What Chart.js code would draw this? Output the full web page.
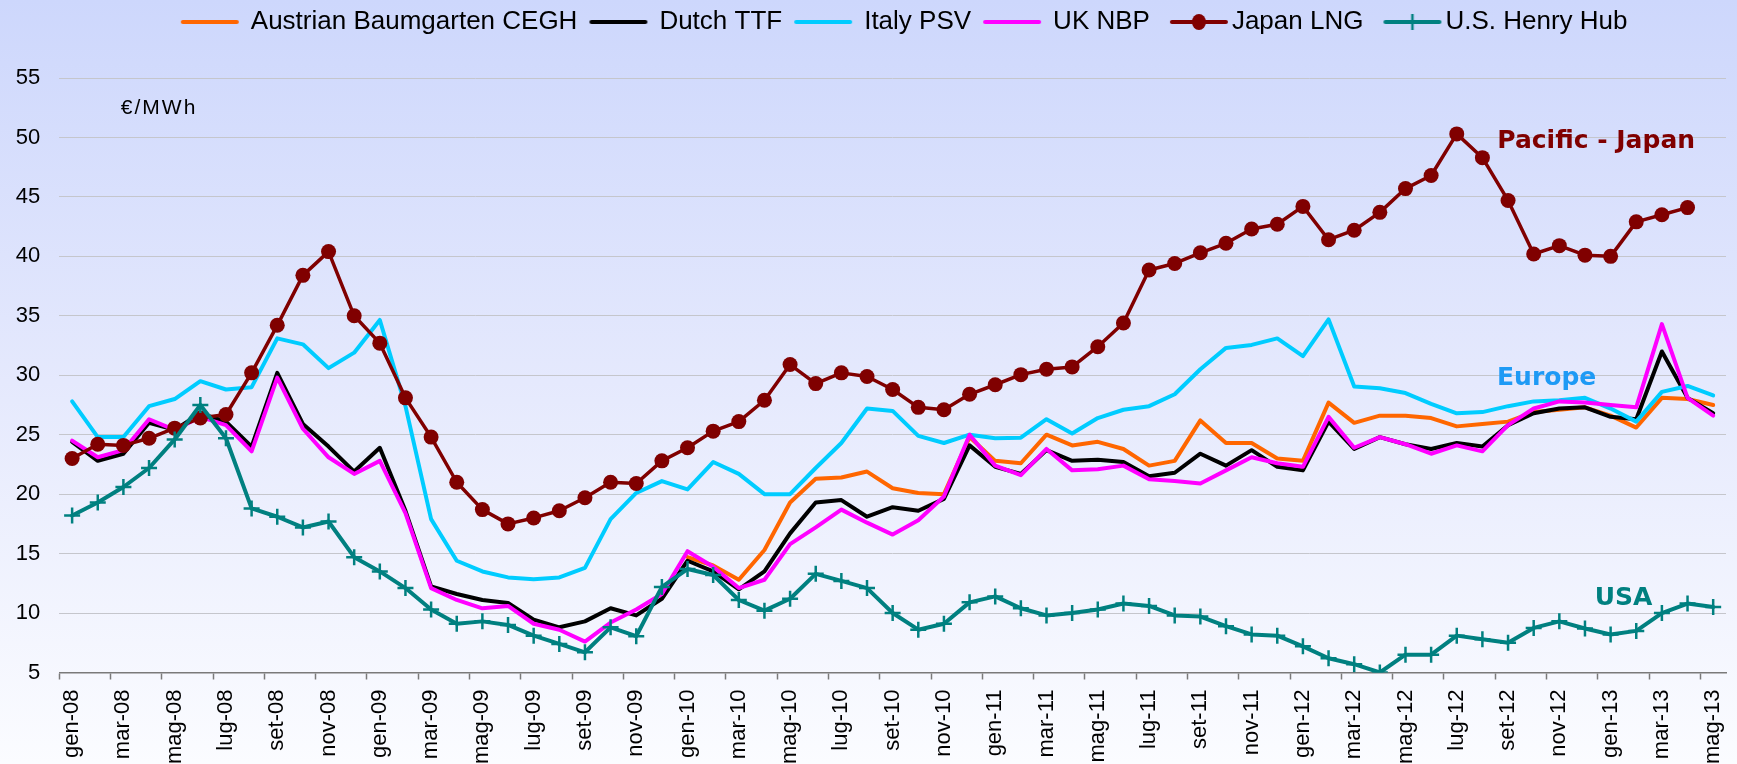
<!DOCTYPE html>
<html>
<head>
<meta charset="utf-8">
<title>Prezzi del gas naturale</title>
<script src="https://cdn.jsdelivr.net/npm/chart.js@4.4.1/dist/chart.umd.min.js"></script>
<style>
  html, body { margin: 0; padding: 0; }
  body {
    width: 1737px;
    height: 764px;
    overflow: hidden;
    background: linear-gradient(to bottom, #cdd7fc 0%, #e5e9fd 50%, #fbfcff 100%);
  }
  canvas { display: block; }
</style>
</head>
<body>
<canvas id="price-chart" width="1737" height="764"></canvas>
<script>
// months gen-08 .. mag-13
const monthNames = ["gen", "feb", "mar", "apr", "mag", "giu", "lug", "ago", "set", "ott", "nov", "dic"];
const years = ["08", "09", "10", "11", "12", "13"];
const labels = [];
years.forEach((yy) => monthNames.forEach((mm) => labels.push(`${mm}-${yy}`)));
labels.splice(65);

// €/MWh
const austrianCegh = [
  null, null, null, null, null, null, null, null, null, null,
  null, null, null, null, null, null, null, null, null, null,
  null, null, null, null, 14.7, 14.0, 12.8, 15.3, 19.3, 21.3,
  21.4, 21.9, 20.5, 20.1, 20.0, 24.8, 22.8, 22.6, 25.0, 24.1,
  24.4, 23.8, 22.4, 22.8, 26.2, 24.3, 24.3, 23.0, 22.8, 27.7,
  26.0, 26.6, 26.6, 26.4, 25.7, 25.9, 26.1, 26.9, 27.1, 27.3,
  26.6, 25.6, 28.1, 28.0, 27.5,
];
const dutchTtf = [
  24.4, 22.8, 23.4, 26.0, 25.4, 26.8, 26.1, 24.0, 30.2, 25.9,
  24.0, 21.9, 23.9, 18.6, 12.25, 11.6, 11.1, 10.85, 9.45, 8.8,
  9.3, 10.4, 9.8, 11.2, 14.4, 13.5, 12.0, 13.5, 16.7, 19.3,
  19.5, 18.1, 18.9, 18.6, 19.6, 24.1, 22.3, 21.7, 23.7, 22.8,
  22.9, 22.7, 21.5, 21.8, 23.4, 22.4, 23.7, 22.3, 22.0, 26.1,
  23.8, 24.8, 24.2, 23.8, 24.3, 24.0, 25.8, 26.8, 27.2, 27.3,
  26.5, 26.3, 32.0, 28.1, 26.8,
];
const italyPsv = [
  27.8, 24.8, 24.8, 27.4, 28.0, 29.5, 28.8, 29.0, 33.1, 32.6,
  30.6, 31.9, 34.65, 27.4, 17.9, 14.4, 13.5, 13.0, 12.85, 13.0,
  13.8, 17.9, 20.1, 21.1, 20.4, 22.7, 21.7, 20.0, 20.0, 22.2,
  24.3, 27.2, 27.0, 24.9, 24.3, 25.0, 24.7, 24.75, 26.3, 25.1,
  26.4, 27.1, 27.4, 28.4, 30.5, 32.3, 32.55, 33.1, 31.6, 34.7,
  29.05, 28.9, 28.5, 27.6, 26.8, 26.9, 27.4, 27.8, 27.9, 28.1,
  27.2, 26.1, 28.6, 29.1, 28.3,
];
const ukNbp = [
  24.5, 23.1, 23.7, 26.3, 25.4, 26.5, 25.8, 23.6, 29.8, 25.5,
  23.1, 21.7, 22.8, 18.4, 12.1, 11.1, 10.4, 10.6, 9.1, 8.6,
  7.6, 9.2, 10.3, 11.6, 15.2, 13.9, 12.1, 12.8, 15.8, 17.2,
  18.7, 17.6, 16.6, 17.8, 19.8, 25.0, 22.4, 21.6, 23.8, 22.0,
  22.1, 22.4, 21.25, 21.1, 20.9, 22.0, 23.1, 22.6, 22.3, 26.5,
  23.9, 24.8, 24.2, 23.4, 24.1, 23.6, 25.8, 27.2, 27.8, 27.7,
  27.5, 27.3, 34.3, 28.1, 26.6,
];
const japanLng = [
  23.0, 24.2, 24.1, 24.7, 25.55, 26.4, 26.7, 30.2, 34.2, 38.4,
  40.4, 35.0, 32.7, 28.1, 24.8, 21.0, 18.7, 17.5, 18.0, 18.6,
  19.7, 21.0, 20.9, 22.8, 23.9, 25.3, 26.1, 27.9, 30.9, 29.3,
  30.2, 29.9, 28.8, 27.3, 27.1, 28.4, 29.2, 30.05, 30.5, 30.7,
  32.4, 34.4, 38.85, 39.4, 40.3, 41.1, 42.3, 42.7, 44.2, 41.4,
  42.2, 43.7, 45.7, 46.8, 50.3, 48.3, 44.7, 40.2, 40.9, 40.1,
  40.0, 42.9, 43.5, 44.1, null,
];
const henryHub = [
  18.2, 19.3, 20.6, 22.2, 24.6, 27.5, 24.7, 18.8, 18.1, 17.2,
  17.7, 14.7, 13.5, 12.1, 10.3, 9.1, 9.3, 9.0, 8.1, 7.4,
  6.7, 8.8, 8.05, 12.2, 13.7, 13.2, 11.1, 10.2, 11.2, 13.3,
  12.7, 12.1, 10.0, 8.6, 9.1, 10.9, 11.4, 10.4, 9.8, 10.0,
  10.3, 10.8, 10.6, 9.8, 9.7, 8.9, 8.2, 8.1, 7.2, 6.2,
  5.7, 5.0, 6.5, 6.5, 8.1, 7.8, 7.5, 8.75, 9.3, 8.7,
  8.2, 8.5, 10.0, 10.8, 10.5,
];

// text placed on the plot, anchored to category index / value
const notes = [
  { text: "€/MWh", x: 1.9, y: 52.45, color: "#000000", font: "21px Arial, 'Liberation Sans', sans-serif", spacing: "2px" },
  { text: "Pacific - Japan", x: 55.58, y: 49.7, color: "#800000", font: "bold 25px 'DejaVu Sans', Verdana, sans-serif" },
  { text: "Europe", x: 55.57, y: 29.7, color: "#1e9af5", font: "bold 25px 'DejaVu Sans', Verdana, sans-serif" },
  { text: "USA", x: 59.38, y: 11.25, color: "#008080", font: "bold 25px 'DejaVu Sans', Verdana, sans-serif" },
];

Chart.defaults.font.family = "Arial, 'Liberation Sans', sans-serif";
Chart.defaults.color = "#000000";

// legend samples: a short line, with the series marker when there is one
function makeSample(color, marker) {
  const c = document.createElement("canvas");
  c.width = 84;
  c.height = 24;
  const g = c.getContext("2d");
  const x0 = marker ? 25 : 17;
  const x1 = x0 + 54;
  const mid = (x0 + x1) / 2;
  g.strokeStyle = color;
  g.lineWidth = 4;
  g.lineCap = "round";
  g.beginPath();
  g.moveTo(x0, 12);
  g.lineTo(x1, 12);
  g.stroke();
  if (marker === "circle") {
    g.fillStyle = color;
    g.beginPath();
    g.ellipse(mid, 12, 7, 8, 0, 0, Math.PI * 2);
    g.fill();
  } else if (marker === "cross") {
    g.lineWidth = 2.5;
    g.lineCap = "butt";
    g.beginPath();
    g.moveTo(mid, 4);
    g.lineTo(mid, 20);
    g.stroke();
  }
  return c;
}

const lineBase = {
  borderWidth: 4,
  pointRadius: 0,
  pointHoverRadius: 0,
  tension: 0,
  borderJoinStyle: "round",
  borderCapStyle: "round",
};

// drawn last-to-first, so Henry Hub ends up on top (legend is reversed)
const datasets = [
  {
    ...lineBase,
    label: "U.S. Henry Hub",
    data: henryHub,
    borderColor: "#008080",
    backgroundColor: "#008080",
    borderWidth: 4,
    pointStyle: "cross",
    pointRadius: 8,
    pointBorderWidth: 2.5,
    pointBorderColor: "#008080",
    sample: makeSample("#008080", "cross"),
  },
  {
    ...lineBase,
    label: "Japan LNG",
    data: japanLng,
    borderColor: "#800000",
    backgroundColor: "#800000",
    borderWidth: 3.5,
    pointStyle: "circle",
    pointRadius: 7.5,
    pointBorderWidth: 0,
    pointBorderColor: "#800000",
    sample: makeSample("#800000", "circle"),
  },
  { ...lineBase, label: "UK NBP", data: ukNbp, borderColor: "#ff00ff", sample: makeSample("#ff00ff") },
  { ...lineBase, label: "Italy PSV", data: italyPsv, borderColor: "#00ccff", sample: makeSample("#00ccff") },
  { ...lineBase, label: "Dutch TTF", data: dutchTtf, borderColor: "#000000", sample: makeSample("#000000") },
  { ...lineBase, label: "Austrian Baumgarten CEGH", data: austrianCegh, borderColor: "#ff6600", sample: makeSample("#ff6600") },
];

const notesPlugin = {
  id: "notes",
  afterDatasetsDraw(chart) {
    const { ctx, scales } = chart;
    ctx.save();
    ctx.textAlign = "left";
    ctx.textBaseline = "middle";
    notes.forEach((note) => {
      ctx.font = note.font;
      ctx.fillStyle = note.color;
      ctx.letterSpacing = note.spacing || "0px";
      ctx.fillText(note.text, scales.x.getPixelForValue(note.x), scales.y.getPixelForValue(note.y));
    });
    ctx.restore();
  },
};

// the legend row sits a little right of the plot centre in the original
const legendNudge = {
  id: "legendNudge",
  afterLayout(chart) {
    chart.legend.left += 10;
    chart.legend.right += 10;
  },
};

new Chart(document.getElementById("price-chart"), {
  type: "line",
  data: { labels, datasets },
  plugins: [notesPlugin, legendNudge],
  options: {
    responsive: false,
    animation: false,
    devicePixelRatio: 1,
    layout: { padding: { left: 16, right: 11, top: 0, bottom: 0 } },
    scales: {
      x: {
        offset: true,
        grid: {
          offset: true,
          drawOnChartArea: false,
          tickLength: 7,
          tickWidth: 1.5,
          tickColor: (ctx) => (ctx.index % 2 === 0 ? "#7a7a7a" : "rgba(0,0,0,0)"),
        },
        border: { display: true, color: "#7a7a7a", width: 1.5 },
        ticks: {
          autoSkip: false,
          minRotation: 90,
          maxRotation: 90,
          padding: 10,
          font: { size: 22 },
          callback: (value, index) => (index % 2 === 0 ? labels[index] : ""),
        },
        afterFit: (scale) => {
          scale.paddingLeft = 0;
          scale.paddingRight = 0;
          scale.height = 91.5;
        },
      },
      y: {
        min: 5,
        max: 55,
        border: { display: false },
        grid: { color: "#c5c6cc", lineWidth: 1, drawTicks: false },
        ticks: { stepSize: 5, padding: 19, font: { size: 22 } },
        afterFit: (scale) => {
          scale.width = 43.3;
        },
      },
    },
    plugins: {
      tooltip: { enabled: false },
      title: {
        // empty spacer between the legend and the plot
        display: true,
        text: "",
        weight: 500,
        font: { size: 10 },
        padding: { top: 0, bottom: 21 },
      },
      legend: {
        position: "top",
        fullSize: false,
        reverse: true,
        labels: {
          usePointStyle: true,
          pointStyleWidth: 60,
          padding: 9,
          color: "#000000",
          font: { size: 26 },
          generateLabels(chart) {
            const items = Chart.defaults.plugins.legend.labels.generateLabels(chart);
            return items.map((item) => ({ ...item, pointStyle: chart.data.datasets[item.datasetIndex].sample }));
          },
        },
      },
    },
  },
});
</script>
</body>
</html>
